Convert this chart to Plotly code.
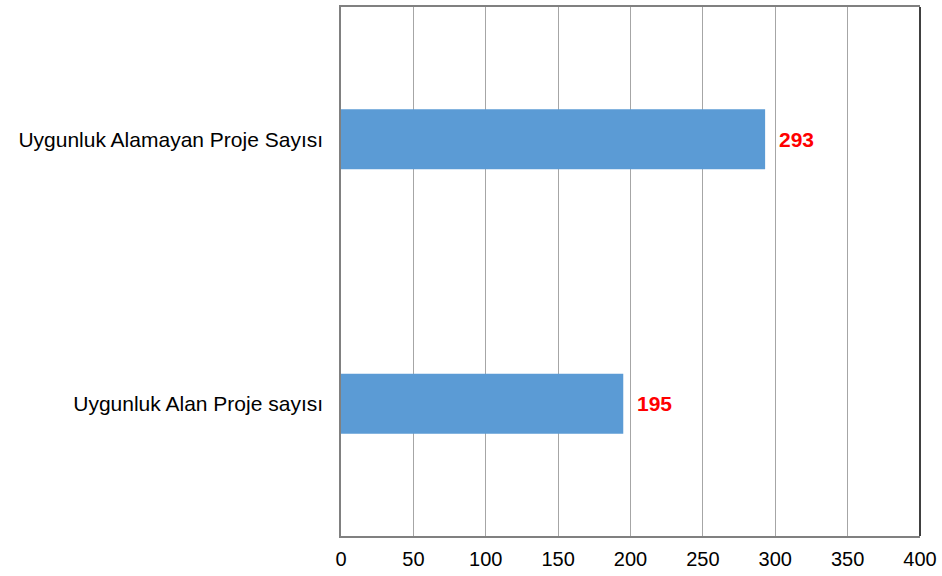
import plotly.graph_objects as go

categories = ["Uygunluk Alan Proje sayısı", "Uygunluk Alamayan Proje Sayısı"]
values = [195, 293]
x_ticks = [0, 50, 100, 150, 200, 250, 300, 350, 400]

fig = go.Figure()
fig.add_trace(go.Bar(
    y=categories, x=values, orientation="h",
    marker=dict(color="#5B9BD5", line=dict(width=0)),
    hoverinfo="skip",
))

for c, v in zip(categories, values):
    fig.add_annotation(
        x=v, y=c, xref="x", yref="y", text=f"<b>{v}</b>", showarrow=False,
        xanchor="left", xshift=12, yshift=0,
        font=dict(family="Liberation Sans, Arial", size=21, color="#FF0000"),
    )

# right border (black)
fig.add_shape(type="line", xref="paper", yref="paper", x0=1, x1=1, y0=0, y1=1,
              line=dict(color="#000000", width=1.5))

fig.update_layout(
    width=942, height=576,
    margin=dict(l=341, r=19, t=5, b=40),
    paper_bgcolor="white", plot_bgcolor="white",
    bargap=0.774,
    showlegend=False,
    font=dict(family="Liberation Sans, Arial", size=20, color="#000000"),
)
fig.update_xaxes(
    range=[0, 400], tickvals=x_ticks, ticktext=[str(t) for t in x_ticks],
    showgrid=True, gridcolor="#A6A6A6", gridwidth=1,
    showline=True, linecolor="#808080", linewidth=1.5, mirror=True,
    zeroline=False, ticks="", ticklabelstandoff=4,
    tickfont=dict(size=20),
)
fig.update_yaxes(
    showgrid=False, showline=True, linecolor="#808080", linewidth=1.5,
    ticks="", ticklabelstandoff=12, tickfont=dict(size=21),
)

fig.write_html("out.html")
